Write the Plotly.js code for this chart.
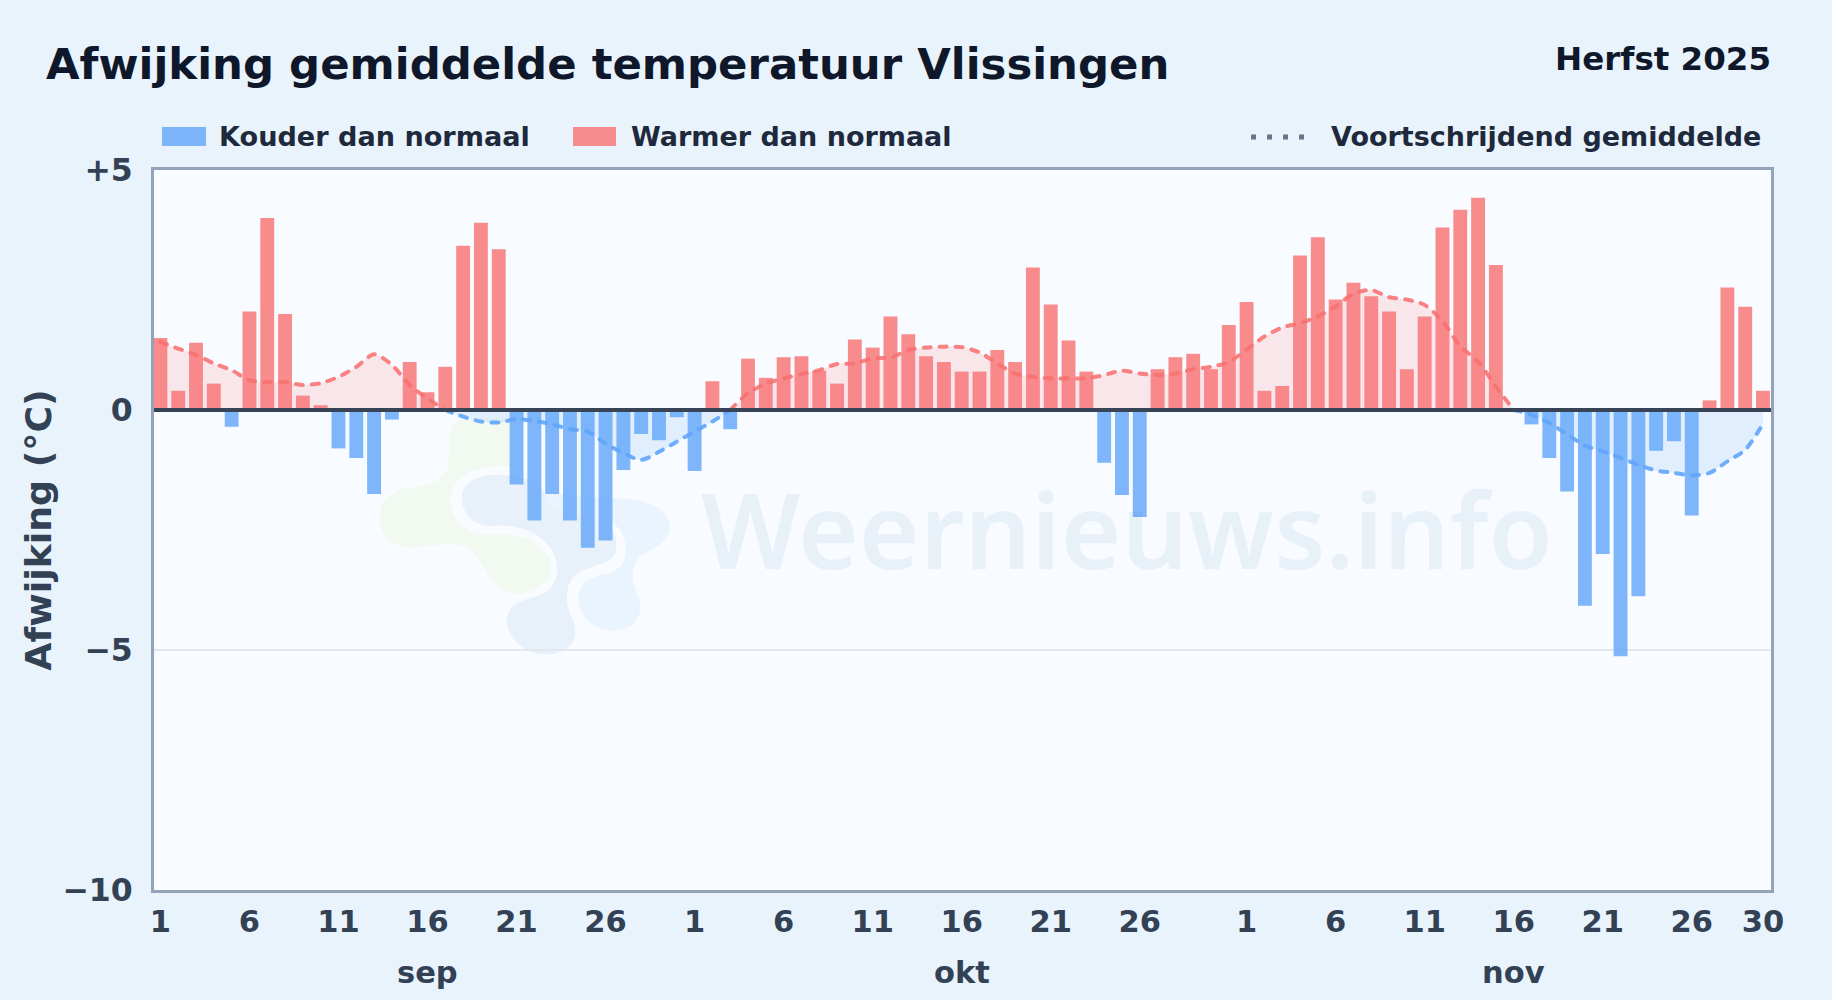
<!DOCTYPE html>
<html><head><meta charset="utf-8">
<script src="https://cdn.plot.ly/plotly-3.0.1.min.js"></script>
<style>
html,body{margin:0;padding:0;background:#e8f3fc;overflow:hidden}
#c{width:1832px;height:1000px}
.js-line{stroke-linecap:round}
</style></head><body><div id="c"></div>
<script>
const dayLabels = ['1','6','11','16','21','26','1','6','11','16','21','26','1','6','11','16','21','26','30'];
const dayTicks  = [0,5,10,15,20,25,30,35,40,45,50,55,61,66,71,76,81,86,90];
const monthLabels = ['sep','okt','nov'];
const monthTicks  = [15,45,76];
const septemberDev = [1.5,0.4,1.4,0.55,-0.35,2.05,4.0,2.0,0.3,0.1,-0.8,-1.0,-1.75,-0.2,1.0,0.37,0.9,3.42,3.9,3.35,-1.55,-2.3,-1.75,-2.3,-2.87,-2.72,-1.25,-0.5,-0.63,-0.15];
const oktoberDev = [-1.27,0.6,-0.4,1.07,0.67,1.1,1.12,0.82,0.55,1.47,1.3,1.95,1.58,1.12,1.0,0.8,0.8,1.25,1.0,2.97,2.2,1.45,0.8,-1.1,-1.77,-2.23,0.85,1.1,1.17,0.85,1.77];
const novemberDev = [2.25,0.4,0.5,3.22,3.6,2.3,2.65,2.37,2.05,0.85,1.95,3.8,4.17,4.42,3.02,0,-0.3,-1.0,-1.7,-4.08,-3.0,-5.13,-3.88,-0.85,-0.65,-2.2,0.2,2.55,2.15,0.4];
const septemberAvg = [1.42,1.28,1.15,0.97,0.83,0.62,0.58,0.58,0.52,0.56,0.69,0.90,1.16,0.94,0.52,0.24,0,-0.14,-0.24,-0.26,-0.19,-0.23,-0.3,-0.4,-0.45,-0.7,-0.9,-1.04,-0.87,-0.66];
const oktoberAvg = [-0.45,-0.24,0,0.35,0.55,0.66,0.75,0.83,0.96,0.97,1.08,1.09,1.25,1.30,1.32,1.31,1.2,0.97,0.76,0.69,0.66,0.66,0.66,0.73,0.82,0.76,0.73,0.76,0.85,0.9,1.0];
const novemberAvg = [1.26,1.53,1.72,1.81,1.95,2.16,2.42,2.5,2.35,2.3,2.19,1.85,1.33,1.01,0.49,0,-0.1,-0.27,-0.51,-0.74,-0.86,-1.0,-1.14,-1.26,-1.31,-1.36,-1.31,-1.07,-0.83,-0.29];
const yTicks = [5,0,-5,-10];
const yLabels = ['+5','0','−5','−10'];

const deviation = [...septemberDev,...oktoberDev,...novemberDev];
const rolling = [...septemberAvg,...oktoberAvg,...novemberAvg];
const idx = deviation.map((_,i)=>i);

const FONT = 'DejaVu Sans';
const L=154,R=1771,T=170,B=890;
const XR=[-0.36,90.45], YR=[-10,5];
const px = v => (v-L)/(R-L);
const py = v => 1-(v-T)/(B-T);

const avgTrace = (sel,color,fill,name)=>({type:'scatter',mode:'lines',x:idx,y:rolling.map(v=>sel(v)?v:null),name,
  line:{color,width:4,shape:'spline',smoothing:0.8,dash:'7px,9px'},fill:'tozeroy',fillcolor:fill,hoverinfo:'skip',showlegend:false,xaxis:'x',yaxis:'y'});
const barTrace = (sel,color,name)=>({type:'bar',x:idx,y:deviation.map(v=>sel(v)?v:null),name,width:0.78,
  marker:{color,line:{width:0}},showlegend:false,xaxis:'x2',yaxis:'y2'});

const traces=[
  avgTrace(v=>v>=0,'rgba(248,113,113,0.88)','rgba(248,113,113,0.15)','Warm gemiddelde'),
  avgTrace(v=>v<=0,'rgba(96,165,250,0.9)','rgba(96,165,250,0.15)','Koud gemiddelde'),
  barTrace(v=>v<0,'rgba(96,165,250,0.8)','Kouder dan normaal'),
  barTrace(v=>v>=0,'rgba(248,113,113,0.8)','Warmer dan normaal')
];

const logo = `<svg xmlns="http://www.w3.org/2000/svg" viewBox="0 0 1200 840" width="1200" height="840">
<path fill="#f2f9f1" d="M300 100C300 70 330 55 370 55L480 55L480 197L420 200C350 205 300 250 300 300C300 350 340 395 400 405C470 400 560 400 600 480C620 530 570 580 500 580C440 580 420 540 400 500C370 440 330 430 290 432C250 435 200 445 160 440C110 430 85 390 90 340C95 290 140 265 190 262C250 255 295 230 295 190Z"/>
<path fill="#e8f0f9" d="M335 290C340 240 400 220 460 225C520 228 570 250 580 270C590 330 650 350 720 350C790 355 810 420 795 460C780 490 740 495 700 510C650 530 640 590 660 640C690 700 680 740 620 760C560 775 480 740 470 670C465 620 510 600 560 590C620 570 640 510 605 450C570 395 500 370 430 378C370 380 335 340 335 290Z"/>
<path fill="#e9f4fe" d="M585 280L790 295C870 290 960 320 960 380C960 430 900 445 870 470C840 500 845 540 860 580C890 650 850 690 790 692C730 692 690 650 685 600C685 550 720 530 770 522C820 510 835 470 825 420C810 370 770 350 700 348C640 345 595 330 585 280Z"/>
</svg>`;

const ann=(text,x,y,size,color,anchor,extra)=>Object.assign({text,x:px(x),y:py(y),xref:'paper',yref:'paper',xanchor:anchor||'left',yanchor:'middle',showarrow:false,
  font:{family:FONT,size,color,weight:700}},extra||{});

const layout={
  width:1832,height:1000,
  margin:{l:L,r:1832-R,t:T,b:1000-B,pad:0},
  paper_bgcolor:'#e8f3fc',plot_bgcolor:'#f8fbff',
  font:{family:FONT,color:'#334155'},
  bargap:0.2,barmode:'overlay',
  showlegend:false,
  title:{text:'Afwijking gemiddelde temperatuur Vlissingen',x:46/1832,xanchor:'left',xref:'container',y:1-64/1000,yanchor:'middle',yref:'container',
    font:{family:FONT,size:43.4,color:'#0f172a',weight:700}},
  xaxis:{range:XR,tickmode:'array',tickvals:dayTicks,ticktext:dayLabels,showgrid:false,zeroline:false,
    showline:true,mirror:true,linecolor:'#94a3b8',linewidth:3,ticks:'outside',ticklen:2,tickcolor:'rgba(0,0,0,0)',
    tickangle:0,tickfont:{family:FONT,size:30.5,color:'#334155',weight:700}},
  yaxis:{range:YR,tickmode:'array',tickvals:yTicks,ticktext:yLabels,showgrid:true,gridcolor:'#e2e8f0',gridwidth:2,zeroline:false,
    showline:true,mirror:true,linecolor:'#94a3b8',linewidth:3,ticks:'outside',ticklen:12,tickcolor:'rgba(0,0,0,0)',
    tickfont:{family:FONT,size:31.5,color:'#334155',weight:700},
    title:{text:'Afwijking (°C)',standoff:0,font:{family:FONT,size:36.3,color:'#334155',weight:700}}},
  xaxis2:{range:XR,overlaying:'x',visible:false},
  yaxis2:{range:YR,overlaying:'y',visible:false},
  images:[{source:'data:image/svg+xml;utf8,'+encodeURIComponent(logo),xref:'paper',yref:'paper',x:px(350),y:py(400),sizex:400/(R-L),sizey:280/(B-T),
    sizing:'stretch',xanchor:'left',yanchor:'top',layer:'below'}],
  shapes:[
    {type:'line',xref:'paper',yref:'y',x0:0,x1:1,y0:0,y1:0,line:{color:'#374357',width:4},layer:'above'},
    {type:'rect',xref:'paper',yref:'paper',x0:px(162),x1:px(206),y0:py(127),y1:py(146),fillcolor:'rgba(96,165,250,0.8)',line:{width:0},layer:'above'},
    {type:'rect',xref:'paper',yref:'paper',x0:px(573),x1:px(616),y0:py(127),y1:py(146),fillcolor:'rgba(248,113,113,0.8)',line:{width:0},layer:'above'},
    {type:'line',xref:'paper',yref:'paper',x0:px(1251),x1:px(1309),y0:py(137),y1:py(137),line:{color:'#64748b',width:5,dash:'5px,11px'},layer:'above'}
  ],
  annotations:[
    ann('Herfst 2025',1773,59,32.5,'#0f172a','right'),
    ann('Kouder dan normaal',217,136.5,27.1,'#1e293b'),
    ann('Warmer dan normaal',629,136.5,27,'#1e293b'),
    ann('Voortschrijdend gemiddelde',1762.5,136.5,27,'#1e293b','right'),
    ann('Weernieuws.info',1127,528,104,'rgba(48,126,168,0.08)','center',{font:{family:'Noto Sans',size:104,color:'rgba(48,126,168,0.08)',weight:600}}),
    ...monthLabels.map((m,i)=>({text:m,x:monthTicks[i],xref:'x',y:py(972),yref:'paper',xanchor:'center',yanchor:'middle',showarrow:false,
      font:{family:FONT,size:30.5,color:'#334155',weight:700}}))
  ]
};
Plotly.newPlot('c',traces,layout,{displayModeBar:false,staticPlot:true});
</script></body></html>
